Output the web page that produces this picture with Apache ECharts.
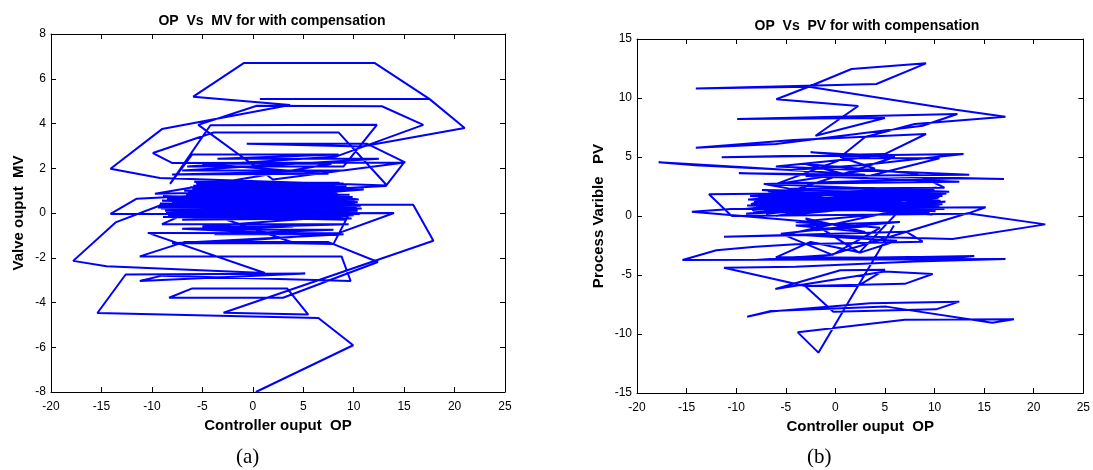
<!DOCTYPE html>
<html>
<head>
<meta charset="utf-8">
<script src="https://cdn.jsdelivr.net/npm/echarts@6/dist/echarts.min.js"></script>
<style>
html,body{margin:0;padding:0;background:#fff;}
#chart{width:1093px;height:470px;}
</style>
</head>
<body>
<div id="chart"></div>
<script>
// Phase-plane traces recorded with stiction compensation active.
// Each entry is [controller output OP, measured value].

// (a) controller output OP against valve output MV
const pathMV = [
  [0.3,-8.0],[9.95,-5.91],[6.5,-4.69],[-15.4,-4.47],[-12.6,-2.75],[5.2,-2.70],
  [-11.2,-3.04],[-9.0,-2.8],[9.7,-3.04],[8.8,-1.94],[-11.2,-1.94],[-6.8,-1.3],[7.5,-1.3],
  [12.4,-2.19],[3.0,-3.79],[-8.3,-3.79],[-6.0,-3.37],[3.4,-3.37],[5.5,-4.54],[-2.9,-4.46],
  [17.9,-1.24],[15.9,0.37],[-9.0,0.37],[-13.6,-0.42],[-17.8,-2.14],[-14.5,-2.38],[1.2,-2.68],
  [-10.4,-0.89],[8.5,-0.9],[14.0,0.0],[-14.1,-0.04],[-11.5,0.64],[13.2,1.21],[15.0,2.26],
  [-7.96,2.23],[-9.9,2.68],[-3.9,3.6],[8.5,3.6],[13.3,1.23],[-9.2,1.56],[-14.1,1.98],
  [-9.0,3.75],[3.7,4.83],[-5.9,5.2],[-0.9,6.7],[12.1,6.7],[17.5,5.1],[0.7,5.1],[17.5,5.1],
  [21.0,3.8],[10.8,2.97],[-0.6,3.09],[11.35,3.09],[15.1,2.26],[2.0,1.5],
  [-5.4,3.94],[0.4,4.79],[12.8,4.77],[16.9,3.94],[8.3,2.53],[-6.5,2.08],[9.0,2.08],
  [12.3,3.94],[-4.2,3.92],[-8.2,1.3],
  [-6.0,2.62],[8.5,2.62],[-3.5,2.42],[12.5,2.42],[-7.0,1.9],[9.0,1.9],[-8.0,1.72],
  [7.5,1.75],[-5.0,2.2],[7.8,2.2],[-9.7,0.86],[11.0,1.05],
  [-9.3,0.35],[10.3,0.25],[-8.6,0.05],[10.6,-0.05],[-7.4,-0.2],[9.4,0.4],[-9.0,0.55],
  [10.0,0.45],[-7.8,0.2],[10.4,0.1],[-8.4,-0.1],[9.8,-0.25],[-6.8,0.0],[10.1,0.55],
  [-8.9,0.75],[9.1,0.65],[-6.4,0.95],[8.9,1.1],[-5.6,1.3],[9.3,1.2],[-6.0,1.05],[8.4,0.9],
  [-7.5,0.6],[10.2,0.3],[-9.1,0.2],[9.6,0.0],[-7.0,-0.3],[8.0,-0.25],[-8.0,0.45],[10.5,0.6],
  [-5.8,1.4],[8.6,1.35],[-6.6,0.8],[9.7,0.7],[-8.7,0.1],[10.0,-0.1],[-5.0,-0.6],[4.0,-0.6],
  [-4.5,-0.75],[8.0,-0.75],[-3.8,-0.95],[9.0,-0.95],[-8.0,-1.35],[4.2,-1.35],[-6.5,0.3],
  [9.5,0.2],[-8.8,0.28],[10.1,0.38],[-7.7,0.12],[9.9,0.15],[-9.2,0.42],[10.4,0.48],
  [-8.1,-0.05],[9.2,-0.12],[-6.9,0.22],[10.7,0.32],[-8.5,0.62],[9.5,0.55],[-7.2,0.35],
  [10.3,0.05],[-8.9,-0.18],[8.7,-0.2],[-7.6,0.5],[9.9,0.72],[-6.2,1.15],[8.8,1.2],
  [-5.2,1.38],[9.0,1.32],[-6.8,1.0],[9.4,1.0],[-5.9,1.22],[8.2,1.25],[-6.1,0.88],[9.6,0.82],
  [-8.3,0.68],[10.2,0.62],[-9.4,0.25],[10.8,0.2],[-7.9,-0.15],[9.3,-0.3],[-6.0,0.1],
  [-9.0,-0.5],[9.5,-0.5],[-7.0,-0.7],[6.5,-1.0],[-3.0,-1.3],[8.0,-1.38],
  [10.0,0.35],[-4.0,0.5],[5.0,0.4]
];

// (b) controller output OP against process variable PV
const pathPV = [
  [5.9,-0.8],[-1.71,-11.58],[-3.79,-9.86],[7.0,-8.8],[18.0,-8.75],[15.82,-9.04],[5.13,-7.68],
  [-6.5,-8.05],[-8.9,-8.53],[-6.5,-8.1],[3.47,-7.4],[12.49,-7.26],[10.14,-7.91],[-0.21,-8.11],
  [-3.05,-5.93],[7.0,-5.75],[9.81,-4.92],[5.0,-4.7],[-6.05,-6.19],[0.5,-4.6],[5.0,-4.55],
  [2.29,-5.93],[-3.05,-5.93],
  [-11.23,-4.38],[-4.0,-4.3],[8.0,-3.85],[17.15,-3.64],[-15.41,-3.73],[-12.0,-2.9],[-8.06,-2.6],
  [-4.0,-2.4],[8.8,-2.18],[7.13,-1.33],[-11.23,-1.75],[-3.0,-1.6],[11.81,-1.95],[21.16,-0.71],
  [13.32,0.23],[-0.54,-3.3],[-8.06,-3.73],[14.0,-3.4],[12.0,-3.55],[-6.0,-3.5],
  [-2.5,-2.2],[2.5,-3.1],[6.2,-2.1],[-5.5,-1.5],[0.0,-1.0],[6.5,-0.5],[-4.0,-0.8],[3.0,-1.35],
  [-3.0,-0.2],[2.4,-3.1],[6.5,0.5],[-5.2,-1.6],[-0.3,-3.3],[4.5,-1.0],
  [-14.47,0.37],[-10.5,0.6],[15.15,0.74],[13.32,0.2],[-10.46,0.0],
  [-12.74,1.84],[11.48,2.06],[-7.22,2.71],[12.49,3.19],[17.0,3.14],[-9.73,3.62],[3.0,3.5],
  [-8.73,4.1],[-17.82,4.55],[-14.1,4.3],[-4.5,3.9],[2.5,4.3],[12.92,5.25],[-11.46,4.97],
  [4.97,5.25],[9.14,6.95],[-4.22,6.44],[-14.07,5.79],[-6.0,6.1],[8.8,7.65],[12.3,8.64],
  [-9.9,8.22],[5.0,8.3],[-2.0,6.8],[2.3,9.32],
  [-5.95,9.89],[-2.7,10.95],[-14.07,10.8],[4.13,11.19],[9.14,12.94],[1.63,12.46],[-2.7,10.95],
  [12.14,9.0],[17.15,8.42],[8.0,7.8],[3.0,6.7],[0.5,5.0],[4.0,4.0],[-6.0,2.7],
  [1.0,4.9],[10.5,4.9],[2.5,3.2],[-3.0,4.4],[8.0,3.6],[11.0,2.4],[-4.5,2.3],
  [-7.2,2.71],[12.5,2.9],[-3.0,3.4],[13.5,3.5],[-6.0,4.2],[3.5,5.0],[-2.5,5.4],[6.0,5.0],
  [-8.5,1.0],[10.0,2.2],[-7.0,0.2],[10.5,1.6],[-8.0,0.8],[9.5,0.3],[-6.5,1.8],[10.2,2.4],
  [-7.5,0.6],[10.8,1.0],[-8.2,1.2],[9.8,0.1],[-5.8,2.0],[10.3,1.8],[-7.2,0.4],[11.0,0.6],
  [-8.8,1.4],[9.0,2.3],[-6.0,0.0],[10.6,1.3],[-7.8,1.6],[9.7,0.8],[-5.0,0.3],[10.9,2.0],
  [-8.4,0.5],[8.5,1.5],[-6.8,2.1],[10.1,0.4],[-7.6,1.1],[11.2,1.9],[-9.0,0.2],[9.3,1.0],
  [-7.9,0.9],[10.4,1.5],[-6.2,0.5],[9.9,2.1],[-8.6,1.7],[10.7,0.7],[-7.1,1.3],[9.6,1.9],
  [-5.5,0.8],[11.1,1.2],[-8.3,0.3],[9.4,1.7],[-6.9,1.5],[10.5,0.9],[-9.2,0.6],[8.8,2.0],
  [-7.4,2.2],[10.0,1.1],[-6.4,1.0],[10.8,1.7],[-8.9,0.9],[9.2,0.5],
  [-4.0,-0.5],[3.0,-0.9],[-2.0,-1.2]
];

const xTicks = {min: -20, max: 25, step: 5};
const mvTicks = {min: -8, max: 8, step: 2};
const pvTicks = {min: -15, max: 15, step: 5};

const FONT = 'Liberation Sans, Arial, sans-serif';
const BLACK = '#000';

function boxAxis(kind, grid, range, withLabels, position) {
  return {
    type: 'value',
    gridIndex: grid,
    position: position,
    min: range.min,
    max: range.max,
    interval: range.step,
    splitLine: {show: false},
    axisLine: {show: true, onZero: false, lineStyle: {color: BLACK, width: 1}},
    axisTick: {show: true, inside: true, length: 5, lineStyle: {color: BLACK, width: 1}},
    axisLabel: {show: withLabels, color: BLACK, fontFamily: FONT, fontSize: 12, margin: kind === 'x' ? 9 : 5}
  };
}

const nameStyle = {fontFamily: FONT, fontSize: 15, fontWeight: 'bold', color: BLACK};
const titleStyle = {fontFamily: FONT, fontSize: 14, fontWeight: 'bold', color: BLACK};

const chart = echarts.init(document.getElementById('chart'), null, {renderer: 'canvas'});

chart.setOption({
  animation: false,
  backgroundColor: '#fff',
  title: [
    {text: 'OP  Vs  MV for with compensation', left: 267, top: 9, textAlign: 'center', textStyle: titleStyle},
    {text: 'OP  Vs  PV for with compensation', left: 862, top: 14, textAlign: 'center', textStyle: titleStyle}
  ],
  grid: [
    {left: 51, top: 34, width: 454, height: 358, show: false},
    {left: 637, top: 39, width: 450, height: 354, show: false}
  ],
  xAxis: [
    Object.assign(boxAxis('x', 0, xTicks, true, 'bottom'), {
      name: 'Controller ouput  OP', nameLocation: 'middle', nameGap: 22, nameTextStyle: nameStyle}),
    boxAxis('x', 0, xTicks, false, 'top'),
    Object.assign(boxAxis('x', 1, xTicks, true, 'bottom'), {
      name: 'Controller ouput  OP', nameLocation: 'middle', nameGap: 22, nameTextStyle: nameStyle}),
    boxAxis('x', 1, xTicks, false, 'top')
  ],
  yAxis: [
    Object.assign(boxAxis('y', 0, mvTicks, true, 'left'), {
      name: 'Valve ouput  MV', nameLocation: 'middle', nameGap: 25, nameTextStyle: nameStyle}),
    boxAxis('y', 0, mvTicks, false, 'right'),
    Object.assign(boxAxis('y', 1, pvTicks, true, 'left'), {
      name: 'Process Varible   PV', nameLocation: 'middle', nameGap: 31, nameTextStyle: nameStyle}),
    boxAxis('y', 1, pvTicks, false, 'right')
  ],
  series: [
    {type: 'line', xAxisIndex: 0, yAxisIndex: 0, data: pathMV, showSymbol: false,
     lineStyle: {color: '#0000ff', width: 2}, silent: true},
    {type: 'line', xAxisIndex: 2, yAxisIndex: 2, data: pathPV, showSymbol: false,
     lineStyle: {color: '#0000ff', width: 2}, silent: true}
  ],
  graphic: [
    {type: 'text', left: 236, top: 447,
     style: {text: '(a)', fontFamily: 'Liberation Serif, Times New Roman, serif', fontSize: 21, fill: BLACK}},
    {type: 'text', left: 807, top: 447,
     style: {text: '(b)', fontFamily: 'Liberation Serif, Times New Roman, serif', fontSize: 21, fill: BLACK}}
  ]
});
</script>
</body>
</html>
